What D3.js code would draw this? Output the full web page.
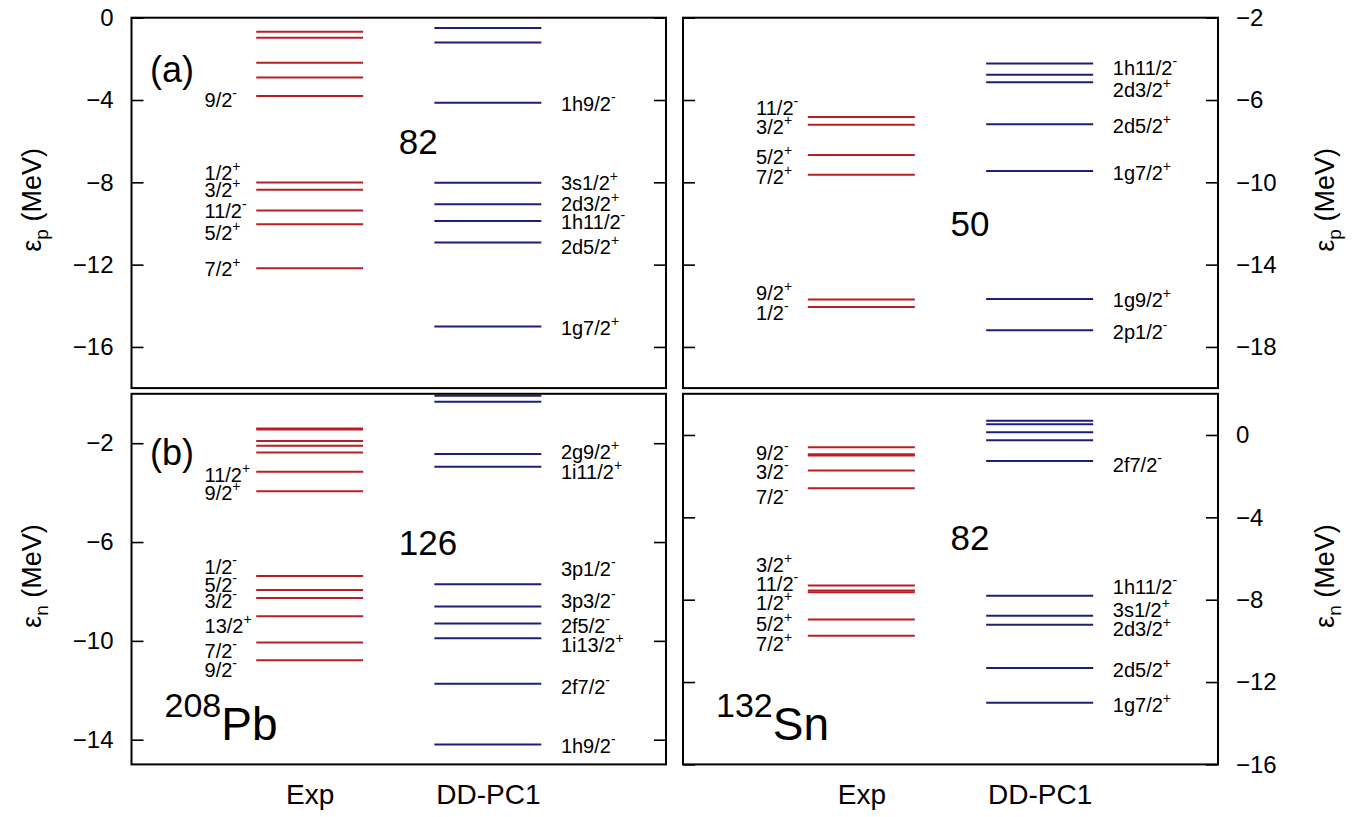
<!DOCTYPE html>
<html>
<head>
<meta charset="utf-8">
<script src="https://cdn.jsdelivr.net/npm/d3@7"></script>
<style>
  body { margin: 0; background: #fff; }
  svg { display: block; font-family: "Liberation Sans", Arial, Helvetica, sans-serif; }
</style>
</head>
<body>
<svg id="chart" width="1369" height="817"></svg>
<script>
// Level schemes: experimental vs. DD-PC1 single-particle energies (MeV)
const columns = ["Exp", "DD-PC1"];

// (a) protons, 208Pb
const pbProtonExp = [-0.68, -0.97, -2.19, -2.90, -3.80, -8.01, -8.36, -9.37, -10.04, -12.18];
const pbProtonExpLabels = [["9/2", "-", -4.0], ["1/2", "+", -7.54], ["3/2", "+", -8.37], ["11/2", "-", -9.38], ["5/2", "+", -10.46], ["7/2", "+", -12.23]];
const pbProtonCalc = [-0.50, -1.21, -4.13, -8.02, -9.07, -9.88, -10.93, -15.01];
const pbProtonCalcLabels = [["1h9/2", "-", -4.17], ["3s1/2", "+", -8.03], ["2d3/2", "+", -9.07], ["1h11/2", "-", -9.91], ["2d5/2", "+", -11.13], ["1g7/2", "+", -15.08]];
const pbProtonTicks = [0, -4, -8, -12, -16];
const pbProtonRange = [-18, 0];

// (a) protons, 132Sn
const snProtonExp = [-6.83, -7.20, -8.67, -9.63, -15.70, -16.06];
const snProtonExpLabels = [["11/2", "-", -6.40], ["3/2", "+", -7.30], ["5/2", "+", -8.75], ["7/2", "+", -9.73], ["9/2", "+", -15.39], ["1/2", "-", -16.36]];
const snProtonCalc = [-4.22, -4.77, -5.14, -7.18, -9.45, -15.67, -17.19];
const snProtonCalcLabels = [["1h11/2", "-", -4.46], ["2d3/2", "+", -5.51], ["2d5/2", "+", -7.26], ["1g7/2", "+", -9.53], ["1g9/2", "+", -15.72], ["2p1/2", "-", -17.26]];
const snProtonTicks = [-2, -6, -10, -14, -18];
const snProtonRange = [-20, -2];

// (b) neutrons, 208Pb
const pbNeutronExp = [-1.40, -1.44, -1.91, -2.10, -2.38, -3.16, -3.94, -7.37, -7.94, -8.27, -9.00, -10.07, -10.78];
const pbNeutronExpLabels = [["11/2", "+", -3.28], ["9/2", "+", -4.03], ["1/2", "-", -7.03], ["5/2", "-", -7.73], ["3/2", "-", -8.38], ["13/2", "+", -9.38], ["7/2", "-", -10.39], ["9/2", "-", -11.17]];
const pbNeutronCalc = [-0.08, -0.32, -2.44, -2.95, -7.71, -8.61, -9.30, -9.89, -11.74, -14.19];
const pbNeutronCalcLabels = [["2g9/2", "+", -2.34], ["1i11/2", "+", -3.18], ["3p1/2", "-", -7.10], ["3p3/2", "-", -8.38], ["2f5/2", "-", -9.38], ["1i13/2", "+", -10.16], ["2f7/2", "-", -11.85], ["1h9/2", "-", -14.24]];
const pbNeutronTicks = [-2, -6, -10, -14];
const pbNeutronRange = [-15, 0];

// (b) neutrons, 132Sn
const snNeutronExp = [-0.60, -0.93, -1.00, -1.73, -2.59, -7.31, -7.55, -7.64, -8.96, -9.75];
const snNeutronExpLabels = [["9/2", "-", -0.89], ["3/2", "-", -1.81], ["7/2", "-", -3.0], ["3/2", "+", -6.32], ["11/2", "-", -7.24], ["1/2", "+", -8.18], ["5/2", "+", -9.18], ["7/2", "+", -10.17]];
const snNeutronCalc = [0.69, 0.52, 0.13, -0.26, -1.26, -7.81, -8.78, -9.22, -11.32, -13.01];
const snNeutronCalcLabels = [["2f7/2", "-", -1.46], ["1h11/2", "-", -7.37], ["3s1/2", "+", -8.50], ["2d3/2", "+", -9.40], ["2d5/2", "+", -11.42], ["1g7/2", "+", -13.12]];
const snNeutronTicks = [0, -4, -8, -12, -16];
const snNeutronRange = [-16, 2];

// Shell closures marked in each panel: [number, energy]
const shellGaps = [["82", -6.0], ["50", -12.0], ["126", -6.0], ["82", -5.0]];

const EXP_COLOR = "#b81f25";
const CALC_COLOR = "#1e1e78";

const svg = d3.select("#chart");

const LEFT = [131.5, 666], RIGHT = [683, 1218];
const TOP = [17.7, 388.1], BOTTOM = [393.8, 764.4];

const panels = [
  { xs: LEFT,  ys: TOP,    range: pbProtonRange,  ticks: pbProtonTicks,  side: "left",
    exp: pbProtonExp, expLabels: pbProtonExpLabels, calc: pbProtonCalc, calcLabels: pbProtonCalcLabels,
    gap: shellGaps[0], title: ["ε", "p"], tag: ["(a)", 64.3] },
  { xs: RIGHT, ys: TOP,    range: snProtonRange,  ticks: snProtonTicks,  side: "right",
    exp: snProtonExp, expLabels: snProtonExpLabels, calc: snProtonCalc, calcLabels: snProtonCalcLabels,
    gap: shellGaps[1], title: ["ε", "p"] },
  { xs: LEFT,  ys: BOTTOM, range: pbNeutronRange, ticks: pbNeutronTicks, side: "left",
    exp: pbNeutronExp, expLabels: pbNeutronExpLabels, calc: pbNeutronCalc, calcLabels: pbNeutronCalcLabels,
    gap: shellGaps[2], title: ["ε", "n"], tag: ["(b)", 71], nucleus: ["208", "Pb"], bottomAxis: true },
  { xs: RIGHT, ys: BOTTOM, range: snNeutronRange, ticks: snNeutronTicks, side: "right",
    exp: snNeutronExp, expLabels: snNeutronExpLabels, calc: snNeutronCalc, calcLabels: snNeutronCalcLabels,
    gap: shellGaps[3], title: ["ε", "n"], nucleus: ["132", "Sn"], bottomAxis: true }
];

function levelLabel(g, x, yBase, lab) {
  const t = g.append("text")
    .attr("x", x).attr("y", yBase)
    .attr("font-size", 20).attr("fill", "#000");
  t.append("tspan").text(lab[0]);
  t.append("tspan").attr("font-size", 14).attr("dy", -9).text(lab[1]);
}

panels.forEach(p => {
  const g = svg.append("g");
  const [x0, x1] = p.xs, [y0, y1] = p.ys;

  const col = d3.scalePoint().domain(columns).range([x0, x1]).padding(1);
  const step = col.step();
  const y = d3.scaleLinear().domain(p.range).range([y1, y0]);
  const half = 0.3 * step;

  // level lines
  const drawLevels = (vals, name, color) => {
    const cx = col(name);
    g.append("g").selectAll("line").data(vals).join("line")
      .attr("x1", cx - half).attr("x2", cx + half)
      .attr("y1", d => y(d)).attr("y2", d => y(d))
      .attr("stroke", color).attr("stroke-width", 2);
  };
  drawLevels(p.exp, "Exp", EXP_COLOR);
  drawLevels(p.calc, "DD-PC1", CALC_COLOR);

  // level labels
  const expX = col("Exp") - 0.59 * step;
  const calcX = col("DD-PC1") + 0.41 * step;
  p.expLabels.forEach(l => levelLabel(g, expX, y(l[2]) + 7, l));
  p.calcLabels.forEach(l => levelLabel(g, calcX, y(l[2]) + 7, l));

  // shell gap number
  g.append("text")
    .attr("x", col("Exp") + 0.5 * step)
    .attr("y", y(p.gap[1]) + 12.5)
    .attr("font-size", 35)
    .text(p.gap[0]);

  // panel tag
  if (p.tag) {
    g.append("text").attr("x", x0 + 18.5).attr("y", y0 + p.tag[1])
      .attr("font-size", 36).text(p.tag[0]);
  }

  // nucleus name
  if (p.nucleus) {
    const t = g.append("text").attr("x", x0 + 33).attr("y", y1 - 47.7);
    t.append("tspan").attr("font-size", 34).text(p.nucleus[0]);
    t.append("tspan").attr("font-size", 46).attr("dy", 23.3).text(p.nucleus[1]);
  }

  // value axis with labels, plus mirrored ticks on the opposite edge
  const labelled = (p.side === "left" ? d3.axisLeft(y) : d3.axisRight(y))
    .tickValues(p.ticks).tickSizeInner(-12).tickSizeOuter(0).tickPadding(18);
  const mirror = (p.side === "left" ? d3.axisRight(y) : d3.axisLeft(y))
    .tickValues(p.ticks).tickSizeInner(-12).tickSizeOuter(0).tickFormat("");

  const ga = g.append("g")
    .attr("transform", `translate(${p.side === "left" ? x0 : x1},0)`)
    .call(labelled);
  ga.select(".domain").remove();
  ga.selectAll(".tick line").attr("stroke", "#000").attr("stroke-width", 1.6);
  ga.selectAll(".tick text").attr("font-size", 24).attr("font-family", null).attr("fill", "#000");

  const gm = g.append("g")
    .attr("transform", `translate(${p.side === "left" ? x1 : x0},0)`)
    .call(mirror);
  gm.select(".domain").remove();
  gm.selectAll(".tick line").attr("stroke", "#000").attr("stroke-width", 1.6);

  // column names below the lower panels
  if (p.bottomAxis) {
    const gb = g.append("g").attr("transform", `translate(0,${y1})`)
      .call(d3.axisBottom(col).tickSize(0).tickPadding(20));
    gb.select(".domain").remove();
    gb.selectAll(".tick text").attr("font-size", 28).attr("font-family", null).attr("fill", "#000");
  }

  // axis title
  const tx = p.side === "left" ? 41 : 1334;
  const title = g.append("text")
    .attr("transform", `translate(${tx},${(y0 + y1) / 2 - 3}) rotate(-90)`)
    .attr("text-anchor", "middle")
    .attr("font-size", 27);
  title.append("tspan").text(p.title[0]);
  title.append("tspan").attr("font-size", 19).attr("dy", 7).text(p.title[1]);
  title.append("tspan").attr("dy", -7).text(" (MeV)");

  // frame
  g.append("rect")
    .attr("x", x0).attr("y", y0)
    .attr("width", x1 - x0).attr("height", y1 - y0)
    .attr("fill", "none").attr("stroke", "#000").attr("stroke-width", 2);
});
</script>
</body>
</html>
